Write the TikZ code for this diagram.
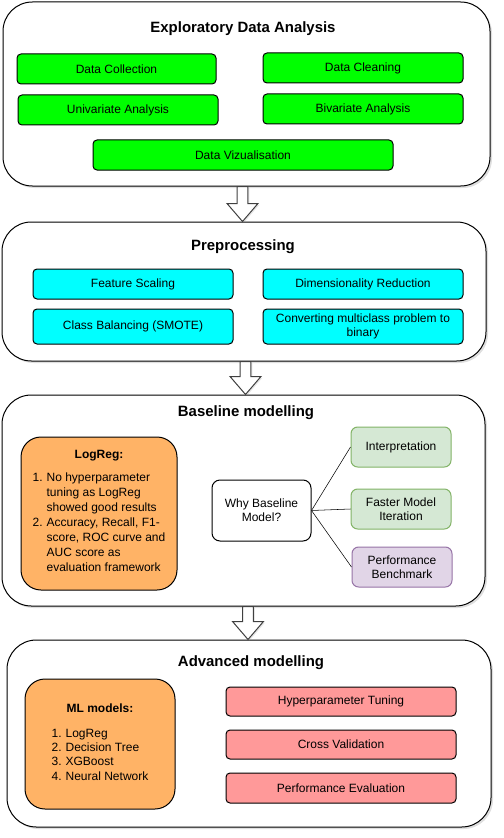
\documentclass[tikz,border=0pt]{standalone}
\usepackage{fontspec}
\setmainfont{Liberation Sans}
\usetikzlibrary{calc,shadows}

\definecolor{edagreen}{HTML}{00FF00}
\definecolor{precyan}{HTML}{00FFFF}
\definecolor{noteorange}{HTML}{FFB366}
\definecolor{advred}{HTML}{FF9999}
\definecolor{whyfill}{HTML}{D5E8D4}
\definecolor{whyline}{HTML}{82B366}
\definecolor{benchfill}{HTML}{E1D5E7}
\definecolor{benchline}{HTML}{9673A6}

% Hohlpfeil zwischen zwei Stufen, #3 = x-Position der Achse
\newcommand{\hohlpfeil}[3]{%
    \draw[blockarrow] let \p1=(#1.south), \p2=(#2.north), \p3=(#3,0) in
        (\x3-4.1pt,\y1) -- (\x3-4.1pt,\y2+13.5pt) -- (\x3-11.6pt,\y2+13.5pt)
        -- (\x3,\y2) -- (\x3+11.6pt,\y2+13.5pt) -- (\x3+4.1pt,\y2+13.5pt)
        -- (\x3+4.1pt,\y1) -- cycle;}

\begin{document}
\begin{tikzpicture}[
        x=0.75pt, y=-0.75pt,
        font=\fontsize{9}{10.8}\selectfont,
        dims/.style 2 args={minimum width=#1*0.75pt, minimum height=#2*0.75pt},
        stage/.style={draw, line width=0.75pt, rounded corners=22pt, fill=white,
            drop shadow={opacity=0.25, shadow xshift=1.5pt, shadow yshift=-1.5pt}},
        stagetitle/.style={font=\fontsize{11.2}{13}\selectfont\bfseries},
        task/.style={draw, line width=0.75pt, rounded corners=3pt, inner sep=2pt, align=center},
        note/.style={draw, line width=0.75pt, rounded corners=15pt, fill=noteorange, align=center},
        reason/.style={draw=whyline, line width=0.75pt, rounded corners=5pt, fill=whyfill, align=center},
        blockarrow/.style={draw=black!75, fill=white, line width=0.75pt,
            drop shadow={opacity=0.2, shadow xshift=1pt, shadow yshift=-1pt}}
        ]
    \useasboundingbox (0,0) rectangle (503,838);

    % Stufen
    \node[stage, dims={487}{184}] (EDA)  at (246.5,94)    {};
    \node[stage, dims={484}{139}] (PRE)  at (244,291.5)   {};
    \node[stage, dims={483}{211}] (BASE) at (243.5,500.5) {};
    \node[stage, dims={484}{187}] (ADV)  at (249,733.5)   {};

    \node[stagetitle] (EDAt)  at (243,29)  {Exploratory Data Analysis};
    \node[stagetitle] (PREt)  at (243,247) {Preprocessing};
    \node[stagetitle] (BASEt) at (246,413) {Baseline modelling};
    \node[stagetitle] (ADVt)  at (251,663) {Advanced modelling};

    % Exploratory Data Analysis
    \node[task, fill=edagreen, dims={199}{30}] (DC)  at (116.5,69) {Data Collection};
    \node[task, fill=edagreen, dims={200}{30}] (DCL) at (363,68)   {Data Cleaning};
    \node[task, fill=edagreen, dims={200}{30}] (UA)  at (118,110)  {Univariate Analysis};
    \node[task, fill=edagreen, dims={200}{30}] (BA)  at (363,109)  {Bivariate Analysis};
    \node[task, fill=edagreen, dims={300}{30}] (DV)  at (243,155)  {Data Vizualisation};

    % Preprocessing
    \node[task, fill=precyan, dims={200}{30}] (FS) at (133,284)   {Feature Scaling};
    \node[task, fill=precyan, dims={200}{30}] (DR) at (363,284)   {Dimensionality Reduction};
    \node[task, fill=precyan, dims={200}{35}] (CB) at (133,326.5) {Class Balancing (SMOTE)};
    \node[task, fill=precyan, dims={200}{35}] (CM) at (363,326.5) {Converting multiclass problem to\\binary};

    % Baseline modelling
    \node[note, dims={156}{153}] (LOG) at (99,513.5) {\textbf{LogReg:}\\[6pt]
        \def\arraystretch{1.05}%
        \begin{tabular}{@{}r@{\hspace{3pt}}l@{}}
            1. & No hyperparameter\\
               & tuning as LogReg\\
               & showed good results\\
            2. & Accuracy, Recall, F1-\\
               & score, ROC curve and\\
               & AUC score as\\
               & evaluation framework
        \end{tabular}};
    \node[draw, line width=0.75pt, rounded corners=6pt, fill=white, align=center,
          dims={99}{61}] (WHY) at (261.5,510.5) {Why Baseline\\Model?};
    \node[reason, dims={100}{40}] (INT) at (401,447) {Interpretation};
    \node[reason, dims={100}{40}] (FMI) at (401,509) {Faster Model\\Iteration};
    \node[reason, draw=benchline, fill=benchfill, dims={100}{40}] (PB) at (402,567) {Performance\\Benchmark};

    \draw (WHY.east) -- (INT.west)
          (WHY.east) -- (FMI.west)
          (WHY.east) -- (PB.west);

    % Advanced modelling
    \node[note, dims={150}{130}] (ML) at (100,744) {\textbf{ML models:}\\[10pt]
        \begin{tabular}{@{}r@{\hspace{3pt}}l@{}}
            1. & LogReg\\
            2. & Decision Tree\\
            3. & XGBoost\\
            4. & Neural Network
        \end{tabular}};
    \node[task, fill=advred, dims={230}{29}] (HT) at (341,701.5) {Hyperparameter Tuning};
    \node[task, fill=advred, dims={230}{29}] (CV) at (341,744.5) {Cross Validation};
    \node[task, fill=advred, dims={230}{30}] (PE) at (341,788)   {Performance Evaluation};

    % Pfeile
    \hohlpfeil{EDA}{PRE}{242.5}
    \hohlpfeil{PRE}{BASE}{245.5}
    \hohlpfeil{BASE}{ADV}{248}
\end{tikzpicture}
\end{document}
